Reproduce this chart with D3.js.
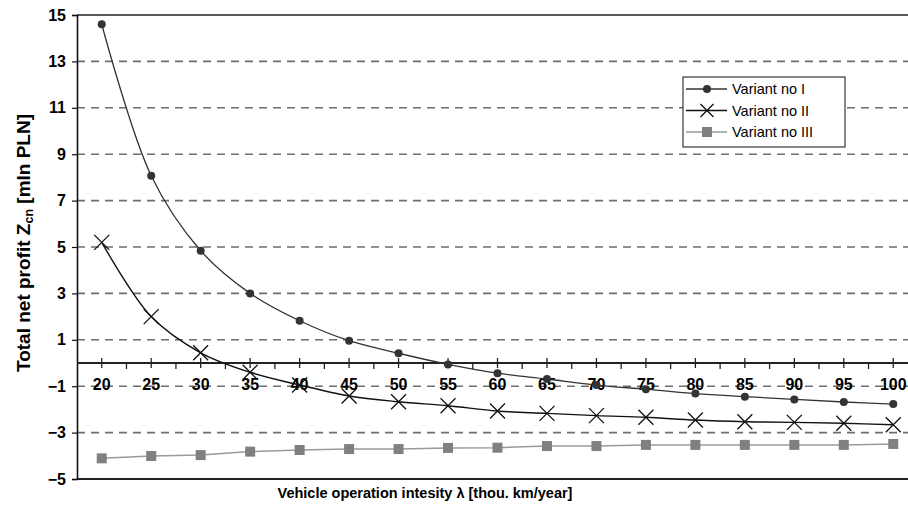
<!DOCTYPE html>
<html lang="en">
<head>
  <meta charset="UTF-8">
  <title>Total net profit</title>
  <script src="https://d3js.org/d3.v7.min.js"></script>
  <style>
    body { margin: 0; background: #fff; }
    svg { display: block; font-family: "Liberation Sans", Arial, sans-serif; }
  </style>
</head>
<body>
  <svg width="908" height="517"></svg>
  <script>
    // data
    var categories = [20, 25, 30, 35, 40, 45, 50, 55, 60, 65, 70, 75, 80, 85, 90, 95, 100];
    var variantI = [14.6, 8.07, 4.84, 3.0, 1.82, 0.96, 0.42, -0.06, -0.44, -0.69, -0.95, -1.13, -1.32, -1.45, -1.57, -1.68, -1.77];
    var variantII = [5.2, 2.0, 0.44, -0.4, -0.95, -1.42, -1.67, -1.84, -2.07, -2.17, -2.27, -2.34, -2.46, -2.53, -2.56, -2.6, -2.66];
    var variantIII = [-4.11, -4.01, -3.97, -3.82, -3.75, -3.71, -3.71, -3.66, -3.65, -3.58, -3.58, -3.53, -3.53, -3.53, -3.53, -3.53, -3.49];
    var yTicks = [-5, -3, -1, 1, 3, 5, 7, 9, 11, 13, 15];
    var seriesNames = ["Variant no I", "Variant no II", "Variant no III"];

    var svg = d3.select("svg");
    var plotLeft = 77, plotRight = 918, plotTop = 15, plotBottom = 479;

    var x = d3.scaleBand().domain(categories).range([plotLeft, plotRight]).padding(0);
    var bw = x.bandwidth();
    var cx = function(d) { return x(d) + bw / 2; };
    var y = d3.scaleLinear().domain([-5, 15]).range([plotBottom, plotTop]);

    // dashed grid lines
    svg.append("g")
       .selectAll("line")
       .data(yTicks.filter(function(d) { return d > -5 && d < 15; }))
       .enter().append("line")
       .attr("x1", plotLeft).attr("x2", plotRight)
       .attr("y1", function(d) { return y(d); })
       .attr("y2", function(d) { return y(d); })
       .attr("stroke", "#6e6e6e")
       .attr("stroke-width", 1.6)
       .attr("stroke-dasharray", "8,6");

    // top and bottom border
    svg.append("line").attr("x1", plotLeft).attr("x2", plotRight)
       .attr("y1", y(15)).attr("y2", y(15))
       .attr("stroke", "#222").attr("stroke-width", 1.6);
    svg.append("line").attr("x1", plotLeft).attr("x2", plotRight)
       .attr("y1", y(-5)).attr("y2", y(-5))
       .attr("stroke", "#222").attr("stroke-width", 2);

    // y axis
    var yAxis = svg.append("g")
       .attr("transform", "translate(" + plotLeft + ",0)")
       .call(d3.axisLeft(y).tickValues(yTicks).tickSize(5).tickPadding(6));
    yAxis.select(".domain").attr("stroke", "#111").attr("stroke-width", 1.6);
    yAxis.selectAll(".tick line").attr("stroke", "#111").attr("stroke-width", 1.2);
    yAxis.selectAll("text")
       .attr("font-family", "Liberation Sans, Arial, sans-serif")
       .attr("font-size", "16px").attr("font-weight", "bold").attr("fill", "#000")
       .attr("x", -11);

    // x axis on the zero line
    var y0 = y(0);
    var xAxis = svg.append("g");
    xAxis.append("line").attr("x1", plotLeft).attr("x2", plotRight)
       .attr("y1", y0).attr("y2", y0)
       .attr("stroke", "#222").attr("stroke-width", 2);
    xAxis.selectAll(".major")
       .data(categories)
       .enter().append("line")
       .attr("x1", cx).attr("x2", cx)
       .attr("y1", y0 - 5).attr("y2", y0 + 5)
       .attr("stroke", "#222").attr("stroke-width", 1.3);
    xAxis.selectAll(".minor")
       .data(categories.slice(1))
       .enter().append("line")
       .attr("x1", function(d) { return x(d); })
       .attr("x2", function(d) { return x(d); })
       .attr("y1", y0).attr("y2", y0 + 6)
       .attr("stroke", "#222").attr("stroke-width", 1.3);
    xAxis.selectAll("text")
       .data(categories)
       .enter().append("text")
       .attr("x", cx)
       .attr("y", y0 + 27)
       .attr("text-anchor", "middle")
       .attr("font-size", "16px").attr("font-weight", "bold")
       .text(function(d) { return d; });

    // lines
    var smooth = d3.line()
       .x(function(d, i) { return cx(categories[i]); })
       .y(function(d) { return y(d); })
       .curve(d3.curveCatmullRom.alpha(0.5));
    var straight = d3.line()
       .x(function(d, i) { return cx(categories[i]); })
       .y(function(d) { return y(d); });

    svg.append("path").datum(variantIII).attr("d", straight)
       .attr("fill", "none").attr("stroke", "#9a9a9a").attr("stroke-width", 1.5);
    svg.append("path").datum(variantII).attr("d", smooth)
       .attr("fill", "none").attr("stroke", "#111").attr("stroke-width", 1.4);
    svg.append("path").datum(variantI).attr("d", smooth)
       .attr("fill", "none").attr("stroke", "#333").attr("stroke-width", 1.3);

    // markers
    function cross(sel, s) {
      sel.append("path")
         .attr("d", "M" + (-s) + "," + (-s) + "L" + s + "," + s + "M" + (-s) + "," + s + "L" + s + "," + (-s))
         .attr("fill", "none").attr("stroke", "#111").attr("stroke-width", 1.3);
    }

    svg.append("g").selectAll("rect")
       .data(variantIII)
       .enter().append("rect")
       .attr("x", function(d, i) { return cx(categories[i]) - 5; })
       .attr("y", function(d) { return y(d) - 5; })
       .attr("width", 10).attr("height", 10)
       .attr("fill", "#808080");

    svg.append("g").selectAll("g")
       .data(variantII)
       .enter().append("g")
       .attr("transform", function(d, i) { return "translate(" + cx(categories[i]) + "," + y(d) + ")"; })
       .each(function() { cross(d3.select(this), 7.5); });

    svg.append("g").selectAll("circle")
       .data(variantI)
       .enter().append("circle")
       .attr("cx", function(d, i) { return cx(categories[i]); })
       .attr("cy", function(d) { return y(d); })
       .attr("r", 4)
       .attr("fill", "#333");

    // legend
    var lg = svg.append("g").attr("transform", "translate(683,77)");
    lg.append("rect").attr("width", 162).attr("height", 70)
       .attr("fill", "#fff").attr("stroke", "#111").attr("stroke-width", 1);
    var rows = lg.selectAll(".row")
       .data(seriesNames)
       .enter().append("g")
       .attr("transform", function(d, i) { return "translate(0," + (12 + i * 21.5) + ")"; });
    rows.append("line").attr("x1", 3).attr("x2", 44).attr("y1", 0).attr("y2", 0)
       .attr("stroke", function(d, i) { return ["#333", "#111", "#9a9a9a"][i]; })
       .attr("stroke-width", 1.5);
    rows.filter(function(d, i) { return i === 0; })
       .append("circle").attr("cx", 24).attr("cy", 0).attr("r", 4).attr("fill", "#333");
    rows.filter(function(d, i) { return i === 1; })
       .append("g").attr("transform", "translate(24,0)")
       .each(function() { cross(d3.select(this), 6.5); });
    rows.filter(function(d, i) { return i === 2; })
       .append("rect").attr("x", 19).attr("y", -5).attr("width", 10).attr("height", 10)
       .attr("fill", "#808080");
    rows.append("text").attr("x", 49).attr("y", 5)
       .attr("font-size", "14.5px")
       .text(function(d) { return d; });

    // axis titles
    svg.append("text")
       .attr("x", 425).attr("y", 498)
       .attr("text-anchor", "middle")
       .attr("font-size", "14.5px").attr("font-weight", "bold")
       .text("Vehicle operation intesity \u03bb [thou. km/year]");

    var yt = svg.append("text")
       .attr("transform", "translate(30,243) rotate(-90)")
       .attr("text-anchor", "middle")
       .attr("font-size", "19px").attr("font-weight", "bold");
    yt.append("tspan").text("Total net profit Z");
    yt.append("tspan").attr("font-size", "12.5px").attr("dy", 3).text("cn");
    yt.append("tspan").attr("dy", -3).text(" [mln PLN]");
  </script>
</body>
</html>
